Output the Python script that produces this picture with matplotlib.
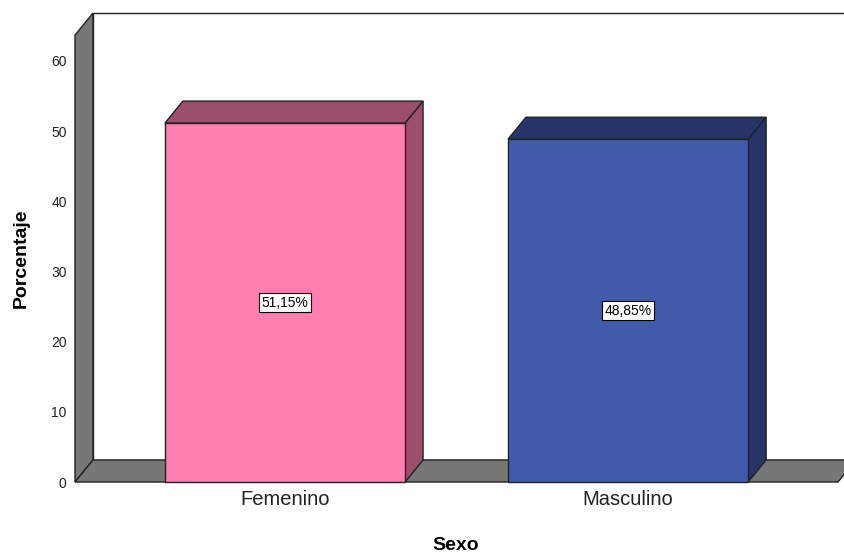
import matplotlib.pyplot as plt
from matplotlib.patches import Polygon
import numpy as np

# data
categories = ['Femenino', 'Masculino']
values = [51.15, 48.85]
labels = ['51,15%', '48,85%']
yticks = [0, 10, 20, 30, 40, 50, 60]

front_cols = ['#FF7FB0', '#3F5BAA']
dark_cols = ['#9B4F6C', '#263468']
wall_col = '#777777'
edge = '#222222'

plt.rcParams['font.family'] = ['Liberation Sans', 'DejaVu Sans']

W, H = 845, 558
fig = plt.figure(figsize=(W / 100, H / 100), dpi=100)
ax = fig.add_axes([75 / W, 76 / H, 763 / W, 421 / H])

xmin, xmax = -0.612, 1.612
ymin, ymax = 0, 60
ax.set_xlim(xmin, xmax)
ax.set_ylim(ymin, ymax)

# depth offsets (data units)
dx = 18 / 343
dy = 22 / 7.017
wall_top = 63.7


def poly(pts, fc, z, lw=1.0):
    ax.add_patch(Polygon(pts, closed=True, facecolor=fc, edgecolor=edge,
                         linewidth=lw, clip_on=False, zorder=z))


# back wall
poly([(xmin + dx, dy), (xmin + dx, wall_top + dy), (xmax + 0.2, wall_top + dy),
      (xmax + 0.2, dy)], 'white', 1)
# left wall
poly([(xmin, 0), (xmin, wall_top), (xmin + dx, wall_top + dy), (xmin + dx, dy)],
     wall_col, 2)
# floor
poly([(xmin, 0), (xmax, 0), (xmax + dx, dy), (xmin + dx, dy)], wall_col, 2)

w = 0.70
for i, v in enumerate(values):
    l, r = i - w / 2, i + w / 2
    # side
    poly([(r, 0), (r + dx, dy), (r + dx, v + dy), (r, v)], dark_cols[i], 3)
    # top
    poly([(l, v), (l + dx, v + dy), (r + dx, v + dy), (r, v)], dark_cols[i], 3)
    # front
    poly([(l, 0), (r, 0), (r, v), (l, v)], front_cols[i], 4)
    ax.text(i, v / 2, labels[i], ha='center', va='center', fontsize=10, zorder=5,
            bbox=dict(boxstyle='square,pad=0.2', facecolor='white',
                      edgecolor='black', linewidth=0.8))

for s in ax.spines.values():
    s.set_visible(False)
ax.patch.set_visible(False)

ax.set_yticks(yticks)
ax.set_yticklabels([str(t) for t in yticks], fontsize=10, color='#222222')
ax.set_xticks(range(len(categories)))
ax.set_xticklabels(categories, fontsize=14.5, color='#222222')
ax.tick_params(axis='y', length=0, pad=6)
ax.tick_params(axis='x', length=0, pad=6)

fig.text(21 / W, 1 - 258 / H, 'Porcentaje', rotation=90, ha='center', va='center',
         fontsize=14, fontweight='bold')
fig.text(456 / W, 1 - 546 / H, 'Sexo', ha='center', va='center',
         fontsize=14, fontweight='bold')

fig.savefig('out.png', dpi=100)
